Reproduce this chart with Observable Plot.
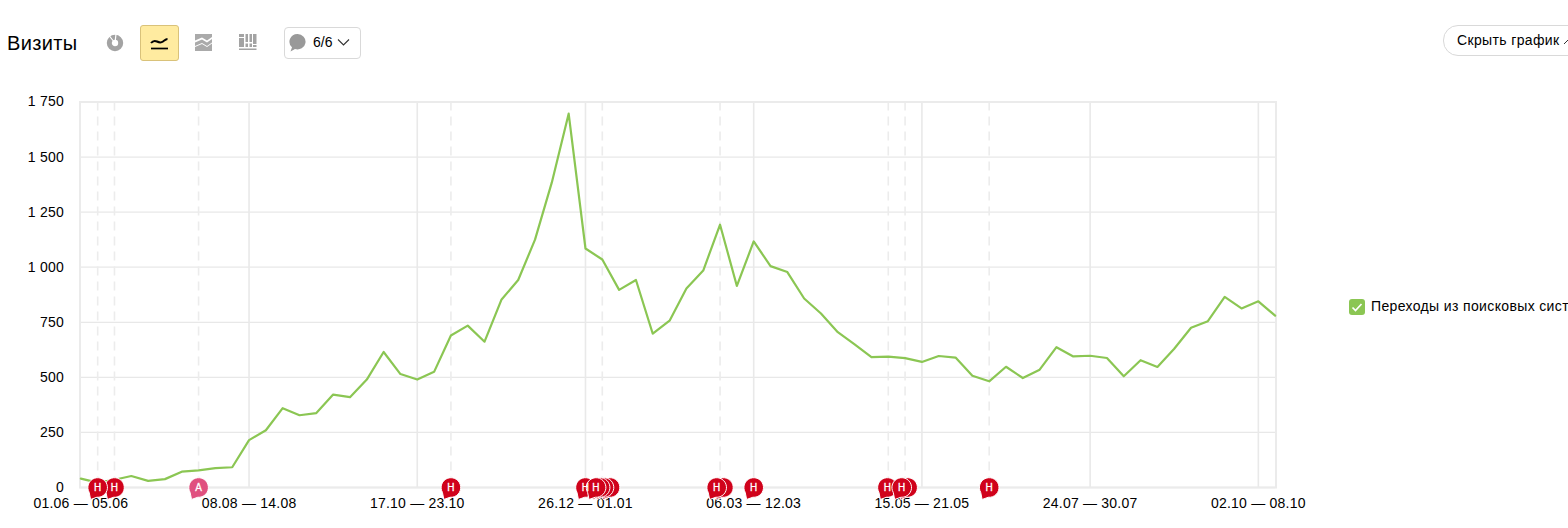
<!DOCTYPE html>
<html><head><meta charset="utf-8">
<script src="https://cdn.jsdelivr.net/npm/d3@7"></script>
<script src="https://cdn.jsdelivr.net/npm/@observablehq/plot@0.6"></script>
<style>
html,body{margin:0;padding:0;background:#fff;overflow:hidden;width:1568px;height:528px;font-family:"Liberation Sans",Arial,sans-serif;color:#000}
#wrap{position:relative;width:1568px;height:528px;overflow:hidden}
#chart{position:absolute;left:0;top:0}
.abs{position:absolute;white-space:nowrap}
#chart svg text{letter-spacing:.22px}
</style></head><body>
<div id="wrap">
<div id="chart"></div>
<div class="abs" style="left:7px;top:31px;font-size:20px;line-height:24px;letter-spacing:.35px">Визиты</div>
<svg class="abs" style="left:106px;top:34px" width="18" height="18" viewBox="0 0 18 18"><circle cx="9" cy="9" r="5.700" fill="none" stroke="#a3a3a3" stroke-width="5"/><path d="M9 9L3 1.500M9 9L10 0" stroke="#fff" stroke-width="1.200"/></svg>
<div class="abs" style="left:140px;top:25px;width:37px;height:34px;background:#ffeba0;border:1px solid #d9c27a;border-radius:3px"></div>
<svg class="abs" style="left:150px;top:35px" width="19" height="16" viewBox="0 0 19 16"><path d="M1 8c2-2.500 4-2.500 6-1.500s4 1.500 6 0 3-2.500 4.500-2.500" fill="none" stroke="#000" stroke-width="2"/><path d="M1 13.500h17" stroke="#000" stroke-width="1.700"/></svg>
<svg class="abs" style="left:195px;top:34px" width="18" height="18" viewBox="0 0 18 18"><path d="M0 0h17v3l-5 3.500-5-3-7 3zM0 8.500l7-3 5 3 5-3.500v3.500l-5 3.500-5-3-7 3zM0 13l7-3 5 3 5-3.500v7.500h-17z" fill="#aaa"/></svg>
<svg class="abs" style="left:239px;top:33px" width="18" height="19" viewBox="0 0 18 19"><path d="M0 1h5v3h-5zM0 5h5v9h-5zM6.500 1h2.500v8h-2.500zM6.500 10.500h2.500v3.500h-2.500zM10.500 1h2.500v8h-2.500zM10.500 10.500h2.500v3.500h-2.500zM14 1h3.500v10h-3.500zM14 12h3.500v2h-3.500zM0 15.500h17.500v1.500h-17.500z" fill="#a3a3a3"/></svg>
<div class="abs" style="left:284px;top:27px;width:75px;height:30px;border:1px solid #d9d9d9;border-radius:4px"></div>
<svg class="abs" style="left:289px;top:34px" width="17" height="19" viewBox="0 0 17 19"><path d="M8.500 0a8 7.700 0 1 1-2.500 15l-4.500 2.500 1.500-4.200a8 7.700 0 0 1 5.500-13.300z" fill="#999"/></svg>
<div class="abs" style="left:313px;top:34px;font-size:14px;line-height:17px">6/6</div>
<svg class="abs" style="left:337px;top:38px" width="13" height="9" viewBox="0 0 13 9"><path d="M1 1.500l5.500 5.500 5.500-5.500" fill="none" stroke="#333" stroke-width="1.100"/></svg>
<div class="abs" style="left:1443px;top:25px;width:200px;height:29px;border:1px solid #d9d9d9;border-radius:15px"></div>
<div class="abs" style="left:1457px;top:32px;font-size:14px;line-height:17px;letter-spacing:.36px">Скрыть график</div>
<svg class="abs" style="left:1564px;top:38px" width="6" height="8" viewBox="0 0 6 8"><path d="M0 6l4-4 4 4" fill="none" stroke="#333"/></svg>
<svg class="abs" style="left:1349px;top:299px" width="16" height="16" viewBox="0 0 16 16"><rect width="16" height="16" rx="3" fill="#8bc653"/><path d="M3.500 8.500l3 3 6-6.500" fill="none" stroke="#fff" stroke-width="1.700"/></svg>
<div class="abs" style="left:1371px;top:298px;font-size:14px;line-height:17px;letter-spacing:.36px">Переходы из поисковых систем</div>
</div>
<script>
const visits = [40,22,35,52,30,38,72,78,88,92,215,260,360,328,338,422,410,490,615,515,490,525,690,735,662,852,942,1125,1385,1697,1085,1035,897,942,698,757,903,985,1193,915,1117,1005,978,858,790,705,650,592,594,587,570,597,590,507,482,548,497,535,637,595,598,588,505,578,547,630,725,755,865,813,845,780];
const weekIndex = visits.map((_, i) => i);
const yTicks = [0,250,500,750,1000,1250,1500,1750];
const yTickLabels = ["0","250","500","750","1 000","1 250","1 500","1 750"];
const xTicks = [0,10,20,30,40,50,60,70];
const xTickLabels = ["01.06 — 05.06","08.08 — 14.08","17.10 — 23.10","26.12 — 01.01","06.03 — 12.03","15.05 — 21.05","24.07 — 30.07","02.10 — 08.10"];
const noteLines = [1,2,7,22,31,38,48,49,54];
// drawn back to front
const noteAt = [54,49.15,47.95,48.8,40,38.2,37.8,31.46,31.1,30.87,30,30.63,22,7,2,1];
const noteKind = ["Н","Н","Н","Н","Н","Н","Н","Н","Н","Н","Н","Н","Н","А","Н","Н"];
const noteLabelled = [1,0,1,1,1,0,1,0,0,0,1,1,1,1,1,1];
const notes = noteAt.map((x, i) => ({x, kind: noteKind[i], shown: noteLabelled[i]}));
const points = weekIndex.map((i) => ({i, v: visits[i]}));

const bubble = {
  draw(ctx, size) {
    const r = Math.sqrt(size / Math.PI);
    const a0 = 150 * Math.PI / 180, a1 = (360 + 95) * Math.PI / 180;
    ctx.moveTo(r * Math.cos(a0), r * Math.sin(a0));
    ctx.arc(0, 0, r, a0, a1);
    ctx.lineTo(-r * 0.72, r * 1.22);
    ctx.closePath();
  }
};
const chart = Plot.plot({
  width: 1568, height: 528,
  marginLeft: 79.5, marginRight: 292.5, marginTop: 101.5, marginBottom: 41,
  style: {fontFamily: '"Liberation Sans",Arial,sans-serif', fontSize: "14px", background: "transparent", color: "#000"},
  x: {domain: [-0.05, 71.05]},
  y: {domain: [0, 1750]},
  marks: [
    Plot.ruleY(yTicks, {stroke: "#e8e8e8", strokeWidth: 1.3, strokeOpacity: 1}),
    Plot.ruleX(xTicks.slice(1), {stroke: "#e9e9e9", strokeWidth: 1.6, strokeOpacity: 1}),
    Plot.ruleX(noteLines, {stroke: "#ececec", strokeWidth: 1.6, strokeDasharray: "9,6"}),
    Plot.frame({stroke: "#ebebeb", strokeWidth: 2}),
    Plot.axisY({ticks: yTicks, tickSize: 0, tickPadding: 16, label: null, tickFormat: (d) => yTickLabels[yTicks.indexOf(d)], fontSize: 14, fill: "#000"}),
    Plot.axisX({ticks: xTicks, tickSize: 0, tickPadding: 11, label: null, tickFormat: (d) => xTickLabels[xTicks.indexOf(d)], fontSize: 14, fill: "#000"}),
    Plot.line(points, {x: "i", y: "v", stroke: "#8bc653", strokeWidth: 2.2, curve: "linear"}),
    Plot.dot(notes, {x: "x", y: () => 0, r: 9.8, symbol: () => bubble, fill: (d) => d.kind === "А" ? "#e0507f" : "#d0021b", stroke: "#fff", strokeWidth: 1}),
    Plot.text(notes.filter((d) => d.shown), {x: "x", y: () => 0, text: "kind", fill: "#fff", fontSize: 10, fontWeight: "normal", stroke: "#fff", strokeWidth: 0.3})
  ]
});
document.getElementById("chart").appendChild(chart);
</script>
</body></html>
